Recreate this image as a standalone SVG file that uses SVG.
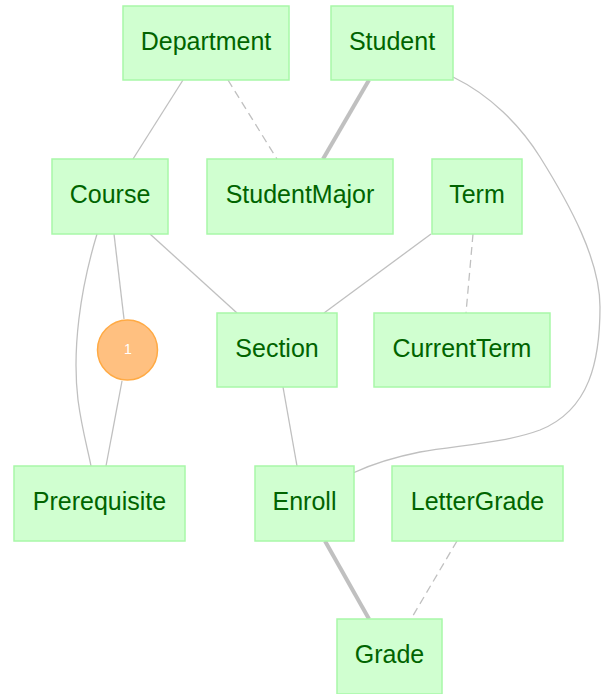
<svg xmlns="http://www.w3.org/2000/svg" width="603" height="694" viewBox="0 0 603 694">
<style>
.n rect{fill:#d0ffd0;stroke:#a8f8a8;stroke-width:1.5}
.n text{font-family:"Liberation Sans",Arial,sans-serif;font-size:25px;fill:#006400;text-anchor:middle}
.e{fill:none;stroke:#c0c0c0;stroke-width:1.3}
.d{stroke-dasharray:8,5}
.t{stroke-width:4}
</style>
<rect width="603" height="694" fill="#fff"/>
<g id="connectors">
<path class="e" d="M183,80 L133,159"/>
<path class="e d" d="M228,80 L277,159"/>
<path class="e t" d="M369,80 L323,159"/>
<path class="e" d="M453,77 C490,95 520,125 540,157 C570,205 600,260 600,307 C600,360 590,410 540,430 C505,443 460,445 420,452 C395,457 370,465 353,473"/>
<path class="e" d="M97,234 C80,290 72,350 78,400 C82,430 88,450 91,466"/>
<path class="e" d="M114,234 L124,319"/>
<path class="e" d="M122,381 L106,466"/>
<path class="e" d="M150,234 L237,313"/>
<path class="e" d="M431,234 L324,313"/>
<path class="e d" d="M473,234 L466,313"/>
<path class="e" d="M283,387 L297,466"/>
<path class="e t" d="M325,541 L369,619"/>
<path class="e d" d="M457,541 L411,619"/>
</g>
<g id="Department" class="n"><rect x="123" y="6" width="166" height="74"/><text x="206" y="50">Department</text></g>
<g id="Student" class="n"><rect x="331" y="6" width="122" height="74"/><text x="392" y="50">Student</text></g>
<g id="Course" class="n"><rect x="52" y="159" width="116" height="75"/><text x="110" y="203">Course</text></g>
<g id="StudentMajor" class="n"><rect x="207" y="159" width="186" height="75"/><text x="300" y="203">StudentMajor</text></g>
<g id="Term" class="n"><rect x="432" y="159" width="90" height="75"/><text x="477" y="203">Term</text></g>
<g id="Section" class="n"><rect x="217" y="313" width="120" height="74"/><text x="277" y="357">Section</text></g>
<g id="CurrentTerm" class="n"><rect x="374" y="313" width="176" height="74"/><text x="462" y="357">CurrentTerm</text></g>
<g id="Prerequisite" class="n"><rect x="14" y="466" width="171" height="75"/><text x="99.5" y="510">Prerequisite</text></g>
<g id="Enroll" class="n"><rect x="255" y="466" width="99" height="75"/><text x="304.5" y="510">Enroll</text></g>
<g id="LetterGrade" class="n"><rect x="392" y="466" width="171" height="75"/><text x="477.5" y="510">LetterGrade</text></g>
<g id="Grade" class="n"><rect x="337" y="619" width="105" height="75"/><text x="389.5" y="663">Grade</text></g>
<g id="circle1"><circle cx="127.5" cy="350" r="30" fill="#ffc080" stroke="#ffaa44" stroke-width="1.5"/><text x="128" y="354" font-family="Liberation Sans,Arial,sans-serif" font-size="14" fill="#fff" text-anchor="middle">1</text></g>
</svg>
